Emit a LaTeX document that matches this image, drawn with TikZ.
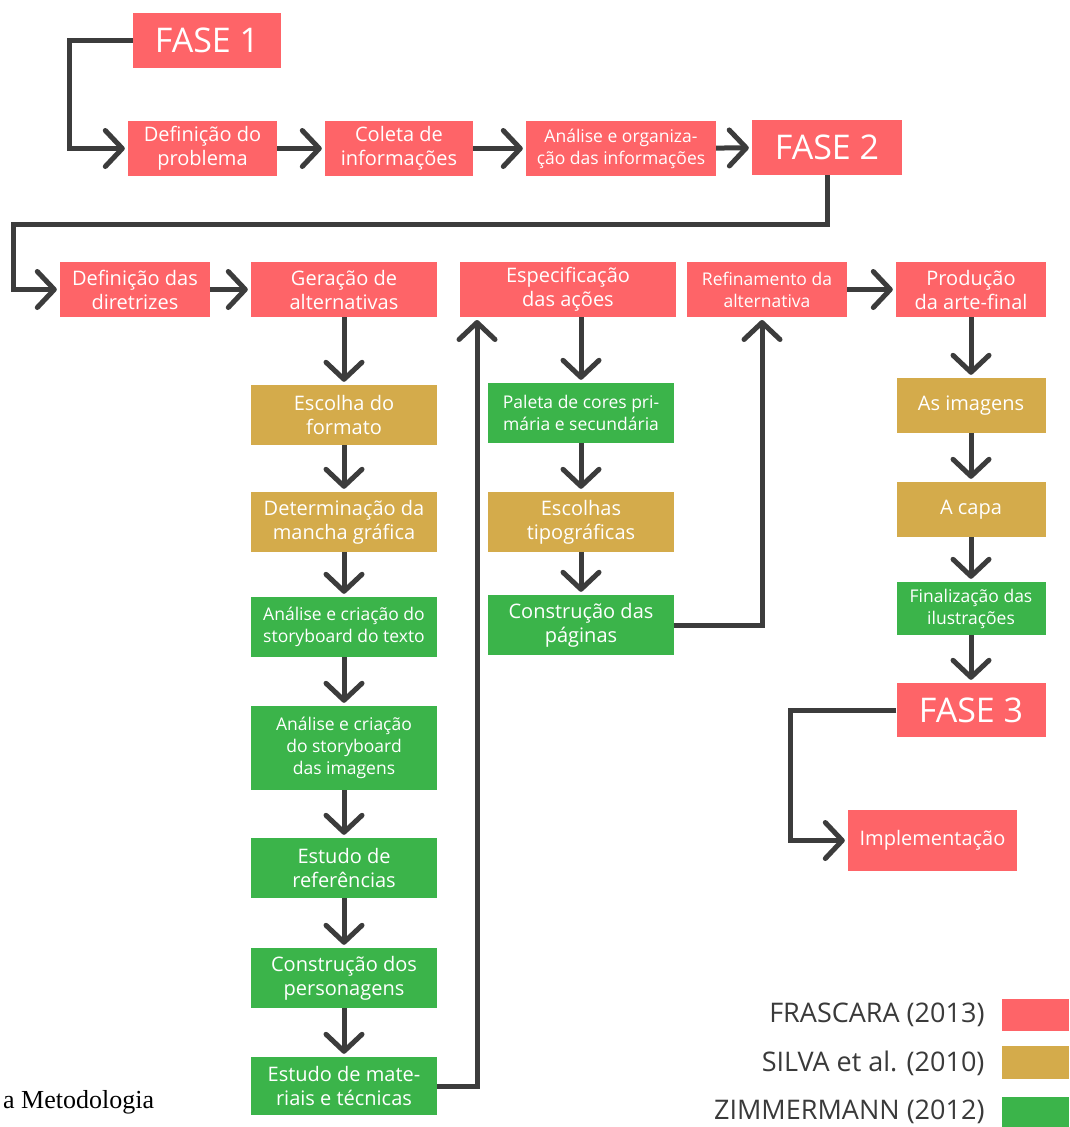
\documentclass[tikz,border=0pt]{standalone}
\usepackage{fontspec}
\setmainfont{Open Sans}
\newfontfamily\serifschrift{Liberation Serif}
\usetikzlibrary{arrows.meta}

\definecolor{frascara}{HTML}{FE6468}
\definecolor{silva}{HTML}{D4AB4B}
\definecolor{zimmermann}{HTML}{3BB44A}
\definecolor{pfeilgrau}{HTML}{3C3C3C}
\definecolor{legendengrau}{HTML}{3A3A3A}

\tikzset{
  box/.style={rectangle, inner sep=0pt, text=white, align=center,
    font=\fontsize{20}{24}\selectfont, minimum height=55pt},
  klein/.style={font=\fontsize{17.5}{22}\selectfont},
  fase/.style={font=\fontsize{34}{38}\selectfont},
  rotbox/.style={box, fill=frascara},
  goldbox/.style={box, fill=silva, minimum height=60pt},
  gruenbox/.style={box, fill=zimmermann, minimum height=60pt},
  pfeil/.style={-{Straight Barb[length=17pt,width=36pt,round]}, line width=5pt,
    pfeilgrau, shorten >=3pt},
  legende/.style={anchor=east, text=legendengrau, font=\fontsize{27}{30}\selectfont}
}

\begin{document}
\begin{tikzpicture}[x=1pt, y=-1pt]
    \useasboundingbox[fill=white] (0,0) rectangle (1069,1127);

    % Fase 1
    \node (1) at (207,40.5) [rotbox, fase, minimum width=148pt] {FASE 1};
    \node (2) at (202.5,148.5) [rotbox, minimum width=149pt] {Definição do\\problema};
    \node (3) at (399,148.5) [rotbox, minimum width=148pt] {Coleta de\\informações};
    \node (4) at (621,148.5) [rotbox, klein, minimum width=190pt] {Análise e organiza-\\ção das informações};
    \node (5) at (827,147.5) [rotbox, fase, minimum width=150pt] {FASE 2};

    % Fase 2
    \node (6) at (135,289.5) [rotbox, minimum width=150pt] {Definição das\\diretrizes};
    \node (7) at (344,289.5) [rotbox, minimum width=186pt] {Geração de\\alternativas};
    \node (8) at (568,289.5) [rotbox, minimum width=216pt] {Especificação\\das ações};
    \node (9) at (767,289.5) [rotbox, klein, minimum width=160pt] {Refinamento da\\alternativa};
    \node (10) at (971,289.5) [rotbox, minimum width=150pt] {Produção\\da arte-final};

    \node (11) at (344,415) [goldbox, minimum width=186pt] {Escolha do\\formato};
    \node (12) at (344,522) [goldbox, minimum width=186pt] {Determinação da\\mancha gráfica};
    \node (13) at (344,627) [gruenbox, klein, minimum width=186pt] {Análise e criação do\\storyboard do texto};
    \node (14) at (344,748) [gruenbox, klein, minimum width=186pt, minimum height=84pt] {Análise e criação\\do storyboard\\das imagens};
    \node (15) at (344,868) [gruenbox, minimum width=186pt] {Estudo de\\referências};
    \node (16) at (344,978) [gruenbox, minimum width=186pt] {Construção dos\\personagens};
    \node (17) at (344,1086) [gruenbox, minimum width=186pt, minimum height=58pt] {Estudo de mate-\\riais e técnicas};

    \node (18) at (581,413) [gruenbox, klein, minimum width=186pt] {Paleta de cores pri-\\mária e secundária};
    \node (19) at (581,522) [goldbox, minimum width=186pt] {Escolhas\\tipográficas};
    \node (20) at (581,625) [gruenbox, minimum width=186pt] {Construção das\\páginas};

    \node (21) at (971,405.5) [goldbox, minimum width=149pt, minimum height=55pt] {As imagens};
    \node (22) at (971,509.5) [goldbox, minimum width=149pt, minimum height=55pt] {A capa};
    \node (23) at (971,608.5) [gruenbox, klein, minimum width=149pt, minimum height=53pt] {Finalização das\\ilustrações};

    % Fase 3
    \node (24) at (971,710) [rotbox, fase, minimum width=149pt, minimum height=54pt] {FASE 3};
    \node (25) at (932.5,840.5) [rotbox, minimum width=169pt, minimum height=61pt] {Implementação};

    % Legende
    \node (26) at (1035.5,1015) [rectangle, fill=frascara, minimum width=67pt, minimum height=32pt] {};
    \node (27) at (1035.5,1062.5) [rectangle, fill=silva, minimum width=67pt, minimum height=33pt] {};
    \node (28) at (1035.5,1112) [rectangle, fill=zimmermann, minimum width=67pt, minimum height=30pt] {};
    \node (29) at (988,1015) [legende] {FRASCARA (2013)};
    \node (30) at (988,1063) [legende] {SILVA et al. (2010)};
    \node (31) at (988,1112) [legende] {ZIMMERMANN (2012)};

    \node (32) at (3,1108) [anchor=base west, inner sep=0pt, font=\serifschrift\fontsize{26}{30}\selectfont] {a Metodologia};

    \coordinate (k1) at (13,224);
    \coordinate (k2) at (477,317);
    \coordinate (k3) at (762,317);

    \draw[pfeil] (1.west) -- ++(-63,0) |- (2);
    \draw[pfeil] (2) to (3);
    \draw[pfeil] (3) to (4);
    \draw[pfeil] (4) to (5);
    \draw[pfeil] (5.south) |- (k1) |- (6);
    \draw[pfeil] (6) to (7);
    \draw[pfeil] (9) to (10);
    \draw[pfeil] (7) to (11);
    \draw[pfeil] (11) to (12);
    \draw[pfeil] (12) to (13);
    \draw[pfeil] (13) to (14);
    \draw[pfeil] (14) to (15);
    \draw[pfeil] (15) to (16);
    \draw[pfeil] (16) to (17);
    \draw[pfeil] (17) -| (k2);
    \draw[pfeil] (8.south -| 18.north) to (18);
    \draw[pfeil] (18) to (19);
    \draw[pfeil] (19) to (20);
    \draw[pfeil] (20) -| (k3);
    \draw[pfeil] (10) to (21);
    \draw[pfeil] (21) to (22);
    \draw[pfeil] (22) to (23);
    \draw[pfeil] (23) to (24);
    \draw[pfeil] (24.west) -- ++(-106,0) |- (25);
\end{tikzpicture}
\end{document}
